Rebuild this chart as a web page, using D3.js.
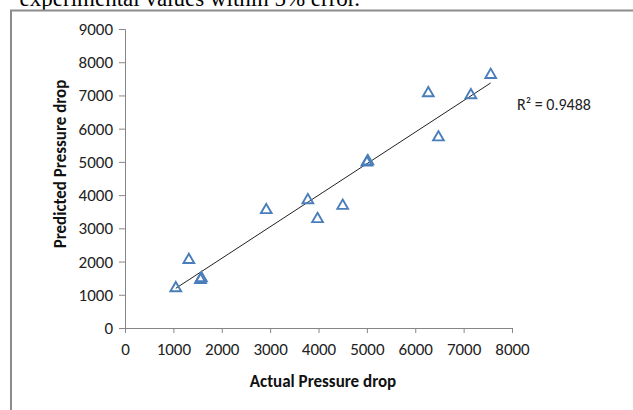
<!DOCTYPE html>
<html>
<head>
<meta charset="utf-8">
<script src="https://cdn.jsdelivr.net/npm/d3@7"></script>
<style>
  body { margin: 0; background: #fff; }
  svg { display: block; }
</style>
</head>
<body>
<div id="chart"></div>
<script>
// Actual vs predicted pressure drop
const actual = [1050, 1320, 1560, 1580, 2920, 3780, 3980, 4500, 5000, 5020, 6270, 6480, 7150, 7560];
const predicted = [1200, 2050, 1450, 1500, 3550, 3850, 3280, 3680, 4980, 5020, 7070, 5740, 7010, 7620];
const xTicks = [0, 1000, 2000, 3000, 4000, 5000, 6000, 7000, 8000];
const yTicks = [0, 1000, 2000, 3000, 4000, 5000, 6000, 7000, 8000, 9000];
const r2Label = 'R² = 0.9488';

const width = 633;
const height = 410;
const font = 'Carlito, Calibri, Lato, sans-serif';
const axisColor = '#868686';
const markerColor = '#4a7ebb';

const svg = d3.select('#chart').append('svg')
    .attr('width', width)
    .attr('height', height);

// page text cut off at the top (from the document around the chart)
svg.append('text')
    .attr('x', 360)
    .attr('y', 6)
    .attr('text-anchor', 'end')
    .attr('font-family', '"Liberation Serif", "Times New Roman", serif')
    .attr('font-size', '23px')
    .attr('fill', '#000')
    .text('experimental values within 5% error.');

// chart frame (only top and left edges visible)
svg.append('line')
    .attr('x1', 10).attr('x2', width)
    .attr('y1', 10.5).attr('y2', 10.5)
    .attr('stroke', '#8c8c8c')
    .attr('stroke-width', 2);
svg.append('line')
    .attr('x1', 11).attr('x2', 11)
    .attr('y1', 10).attr('y2', height)
    .attr('stroke', '#8c8c8c')
    .attr('stroke-width', 2);

// scales
const x = d3.scaleLinear().domain([0, 8000]).range([125, 512]);
const y = d3.scaleLinear().domain([0, 9000]).range([328, 29]);

// x axis
const xAxis = svg.append('g')
    .attr('transform', `translate(0,${y(0)})`)
    .call(d3.axisBottom(x).tickValues(xTicks).tickSize(5).tickPadding(10).tickFormat(d3.format('d')));

// y axis
const yAxis = svg.append('g')
    .attr('transform', `translate(${x(0)},0)`)
    .call(d3.axisLeft(y).tickValues(yTicks).tickSize(6).tickPadding(6).tickFormat(d3.format('d')));

[xAxis, yAxis].forEach(g => {
    g.select('.domain').attr('stroke', axisColor);
    g.selectAll('.tick line').attr('stroke', axisColor);
    g.selectAll('.tick text')
        .attr('font-family', font)
        .attr('font-size', '17px')
        .attr('fill', '#222');
});

// axis titles
svg.append('text')
    .attr('x', 323)
    .attr('y', 387)
    .attr('text-anchor', 'middle')
    .attr('font-family', font)
    .attr('font-size', '17px')
    .attr('font-weight', 'bold')
    .attr('fill', '#111')
    .text('Actual Pressure drop');

svg.append('text')
    .attr('transform', `translate(66,164) rotate(-90)`)
    .attr('text-anchor', 'middle')
    .attr('font-family', font)
    .attr('font-size', '17px')
    .attr('font-weight', 'bold')
    .attr('fill', '#111')
    .text('Predicted Pressure drop');

// linear trendline (least squares)
const n = actual.length;
const mx = d3.mean(actual);
const my = d3.mean(predicted);
let sxy = 0, sxx = 0;
for (let i = 0; i < n; i++) {
    sxy += (actual[i] - mx) * (predicted[i] - my);
    sxx += (actual[i] - mx) * (actual[i] - mx);
}
const slope = sxy / sxx;
const intercept = my - slope * mx;
const xExt = d3.extent(actual);

svg.append('line')
    .attr('x1', x(xExt[0])).attr('y1', y(intercept + slope * xExt[0]))
    .attr('x2', x(xExt[1])).attr('y2', y(intercept + slope * xExt[1]))
    .attr('stroke', '#222')
    .attr('stroke-width', 1);

// triangle markers
const tri = d3.symbol().type(d3.symbolTriangle).size(50);
svg.append('g')
    .selectAll('path')
    .data(actual.map((d, i) => ({ a: d, p: predicted[i] })))
    .join('path')
    .attr('d', tri)
    .attr('transform', d => `translate(${x(d.a)},${y(d.p)})`)
    .attr('fill', 'none')
    .attr('stroke', markerColor)
    .attr('stroke-width', 1.9);

// R squared label
svg.append('text')
    .attr('x', 517)
    .attr('y', 110)
    .attr('font-family', font)
    .attr('font-size', '16px')
    .attr('fill', '#222')
    .text(r2Label);
</script>
</body>
</html>
